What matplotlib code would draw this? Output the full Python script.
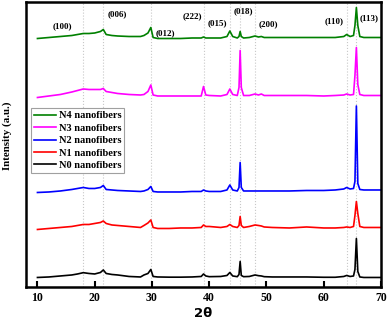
import matplotlib
matplotlib.use("Agg")
import matplotlib.pyplot as plt

plt.rcParams['font.family'] = ['Liberation Serif', 'DejaVu Serif']
plt.rcParams['font.weight'] = 'bold'

two_theta = [10, 12, 14, 16, 17, 18, 19, 20, 21, 21.5, 22, 23, 24, 26, 28, 28.6, 29.3, 29.8, 30.2,
             31, 33, 35, 37, 38.6, 39.0, 39.4, 40, 42, 43.1, 43.6, 44.1, 44.9, 45.2, 45.4, 45.6,
             46.0, 47, 48, 48.6, 49.1, 49.6, 51, 54, 57, 60, 62, 63.5, 64, 64.6, 65.2, 65.45,
             65.7, 65.95, 66.3, 67, 68.5, 70]

n0 = [10, 10.5, 11.5, 12.5, 13.5, 14.8, 14, 13.5, 15, 17.5, 14, 13, 12.5, 11, 10.5, 12.5, 14, 18, 11,
      10.5, 10.3, 10.3, 10.5, 11, 13.5, 11.5, 10.8, 11, 12, 15, 11.5, 10.8, 13, 26, 12,
      10.8, 11, 12.5, 11.8, 11.5, 10.8, 10.5, 10.5, 10.5, 10.2, 10.2, 11, 12, 11, 11.5, 18,
      49, 16, 10.5, 10, 10, 10]
n1 = [58, 59, 60, 61, 62, 63, 63, 64, 65, 66.5, 64, 62.5, 62, 61, 60, 62, 64.5, 67.5, 60,
      59, 59, 59.5, 59.5, 60, 62.5, 61, 61, 60, 61, 63, 61, 60, 62, 71, 62,
      60, 61, 62.5, 62, 61.5, 60.5, 60, 59.5, 60.5, 59.5, 59.5, 60, 60.5, 60, 61, 72,
      86, 74, 61, 60, 60, 60]
n2 = [95, 95.5, 96.5, 98, 99, 100, 99, 99, 100, 102, 98, 97.5, 97, 96.5, 96, 96.5, 98, 101, 96,
      95.5, 95.5, 95.5, 96, 96, 97.5, 96.5, 96, 96, 97.5, 102.5, 97.5, 96.5, 100, 125, 100,
      96.5, 96.5, 96.5, 96.5, 96.5, 96.5, 96.5, 96.5, 97, 97, 97.5, 98.5, 100, 98.5, 99, 106,
      181.5, 104, 98, 97.5, 97.5, 97.5]
n3 = [190, 191.5, 193, 195.5, 197, 198.5, 198, 198, 198, 199, 196, 195, 194, 193, 192.5, 193, 196, 202.5, 192.5,
      191.5, 191.5, 191.5, 191.5, 191.5, 201, 192.5, 192, 191.5, 193, 198.5, 193, 192, 200, 237, 200,
      192, 192, 193.5, 192.5, 193.5, 192, 192, 192, 192, 191.5, 192, 192.5, 193.5, 192.5, 193, 212,
      240, 203, 193, 192, 192, 192]
n4 = [249, 250, 251, 252, 253, 254, 254, 254.5, 256, 258, 253, 252, 251.5, 251, 251, 252, 254.5, 260, 250,
      249, 249, 249, 249.5, 249.5, 250.5, 249.5, 249.5, 249.5, 251, 256.5, 251, 249.5, 251, 256, 251,
      249.5, 250, 251.5, 250.5, 251, 250, 250, 250, 250, 250, 250, 251, 253, 251, 252, 262,
      280, 262, 251, 250, 250, 250]

peak_lines = [18, 21.5, 29.8, 39, 43.6, 45.4, 48, 64, 65.7]
hkl_labels = ['(100)', '(006)', '(012)', '(222)', '(015)', '(018)', '(200)', '(110)', '(113)']
hkl_x = [14.4, 23.9, 32.3, 37.0, 41.5, 45.9, 50.4, 61.8, 67.9]
hkl_y = [261.5, 273.5, 254.5, 271.5, 264, 276.5, 263.5, 266.5, 269]

fig = plt.figure(figsize=(3.87, 3.23), dpi=100)
ax = fig.add_axes([0.0672, 0.11, 0.9173, 0.8838])

for p in peak_lines:
    ax.axvline(p, color='#c8c8c8', linestyle=':', lw=0.8, zorder=0)

l0, = ax.plot(two_theta, n0, color='black', lw=1.2, label='N0 nanofibers')
l1, = ax.plot(two_theta, n1, color='red', lw=1.2, label='N1 nanofibers')
l2, = ax.plot(two_theta, n2, color='blue', lw=1.2, label='N2 nanofibers')
l3, = ax.plot(two_theta, n3, color='magenta', lw=1.2, label='N3 nanofibers')
l4, = ax.plot(two_theta, n4, color='green', lw=1.2, label='N4 nanofibers')

for t, xx, yy in zip(hkl_labels, hkl_x, hkl_y):
    ax.text(xx, yy, t, ha='center', va='center', fontsize=6.5, fontweight='bold')

ax.set_xlim(8, 70)
ax.set_ylim(0, 285.5)
ax.set_xticks([10, 20, 30, 40, 50, 60, 70])
ax.set_yticks([])
ax.tick_params(axis='x', direction='in', length=4, width=1.5, labelsize=8.5, pad=3.5)
for lab in ax.get_xticklabels():
    lab.set_fontweight('bold')
for s in ax.spines.values():
    s.set_linewidth(1.8)

ax.set_xlabel('2θ', family='DejaVu Sans', fontweight='bold', fontsize=9.5, labelpad=2)
ax.set_ylabel('Intensity (a.u.)', fontsize=7.8, fontweight='bold')
ax.yaxis.set_label_coords(-0.04, 0.53)

leg = ax.legend(handles=[l4, l3, l2, l1, l0], loc='upper left', bbox_to_anchor=(0.014, 0.629),
                borderaxespad=0, fancybox=False, edgecolor='#a0a0a0', framealpha=1,
                prop={'size': 7.5, 'weight': 'bold'}, labelspacing=0.3, handlelength=2.1,
                handletextpad=0.25, borderpad=0.3)
leg.get_frame().set_linewidth(0.8)

fig.savefig('out.png', dpi=100)
